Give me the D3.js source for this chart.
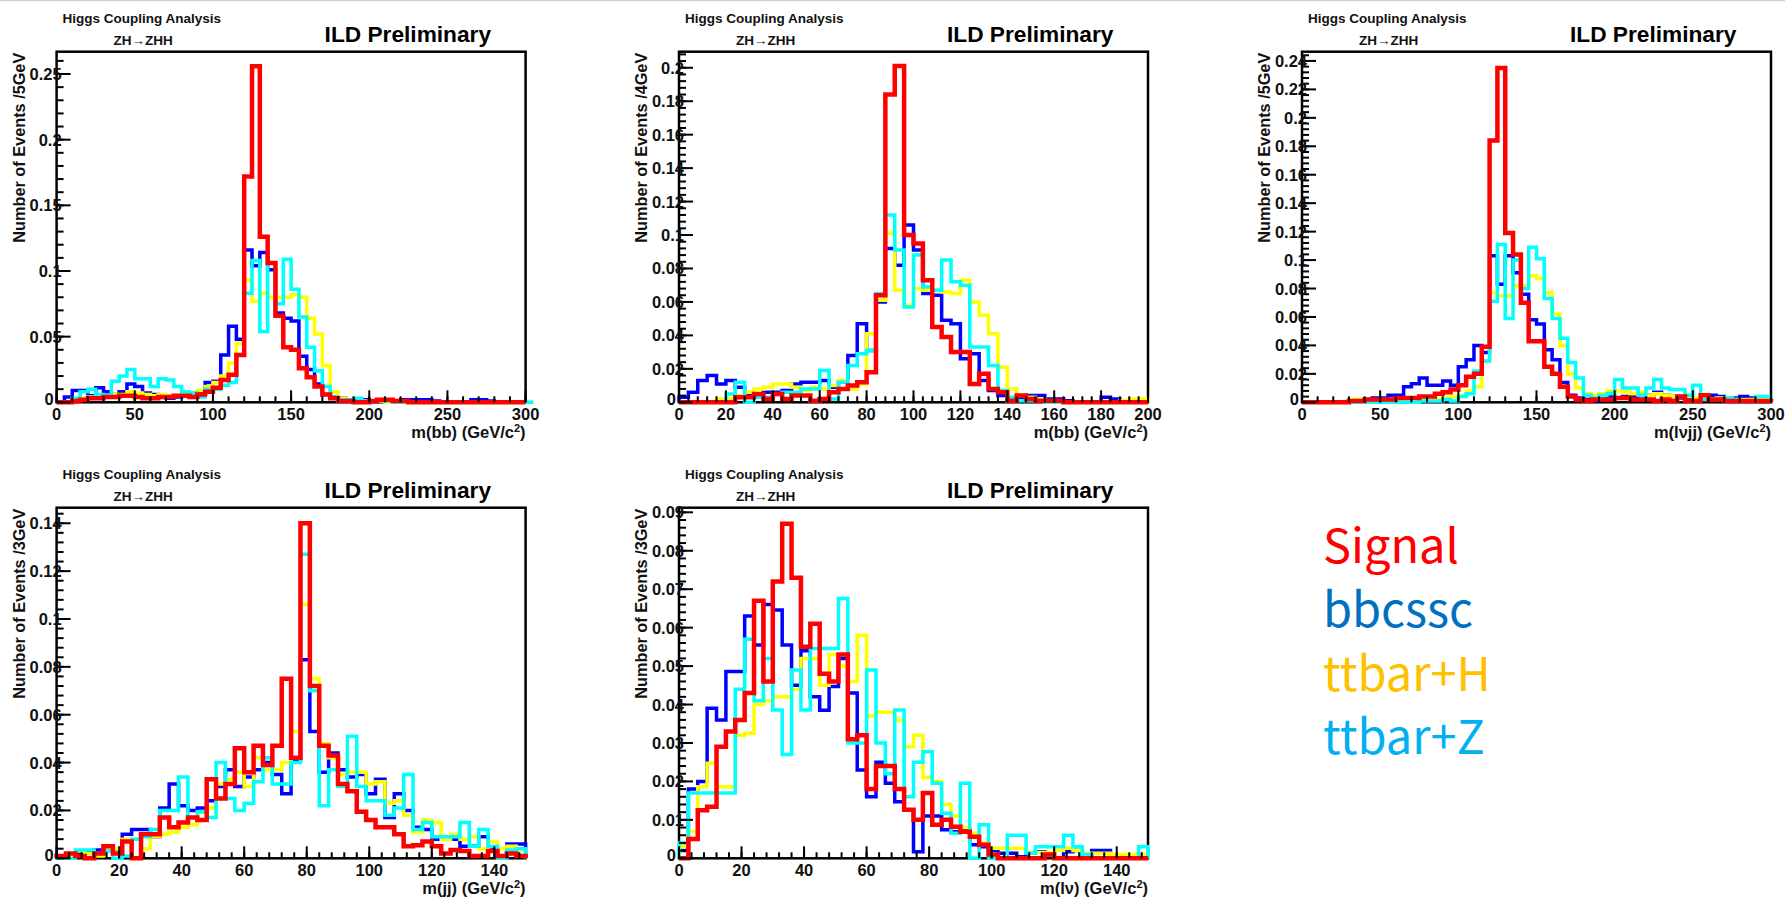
<!DOCTYPE html>
<html>
<head>
<meta charset="utf-8">
<script src="https://cdn.jsdelivr.net/npm/d3@7"></script>
<style>
  html, body { margin: 0; padding: 0; background: #fff; }
  svg { display: block; font-family: "Liberation Sans", Arial, Helvetica, sans-serif; }
</style>
</head>
<body>
<svg id="chart" width="1785" height="897"></svg>
<script>
// ---------------------------------------------------------------
// Normalised event distributions (fraction of events per bin)
// ---------------------------------------------------------------

// m(bb), 5 GeV bins, 0-300 GeV
const sigMbb5 = [0,0,0.001,0.002,0.003,0.003,0.004,0.004,0.005,0.005,0.004,0.003,0.003,0.004,0.004,0.005,0.005,0.004,
  0.006,0.008,0.011,0.017,0.021,0.036,0.172,0.256,0.126,0.106,0.066,0.042,0.040,0.026,0.019,0.012,0.006,0.003,
  0.001,0.001,0,0,0.001,0.002,0.002,0.001,0.001,0,0,0,0,0,0,0,0,0,0,0,0,0,0,0];
const bbcsscMbb5 = [0,0.004,0.009,0.009,0.005,0.011,0.008,0.006,0.008,0.014,0.012,0.007,0.006,0.004,0.003,0.004,0.006,0.006,0.007,0.015,0.016,0.036,0.058,0.048,
  0.116,0.104,0.114,0.101,0.068,0.064,0.062,0.035,0.025,0.014,0.006,0.004,0.003,0.002,
  0.001,0.002,0.001,0.001,0,0,0.002,0.002,0.002,0.002,0.001,0,0,0,0,0.002,0.002,0.001,0,0,0,0];
const ttHMbb5 = [0,0,0.001,0.003,0.004,0.004,0.005,0.006,0.006,0.008,0.007,0.006,0.005,0.006,0.005,0.005,0.006,0.007,0.009,0.012,0.015,0.020,0.030,0.045,
  0.093,0.077,0.083,0.080,0.080,0.080,0.082,0.080,0.064,0.052,0.028,0.008,0.003,
  0.002,0.002,0.001,0.001,0.001,0,0,0,0,0,0,0,0,0,0,0,0,0,0,0,0,0,0,0];
const ttZMbb5 = [0,0,0.003,0.008,0.010,0.006,0.005,0.016,0.020,0.025,0.018,0.018,0.012,0.018,0.017,0.012,0.008,0.007,0.004,0.010,0.010,0.013,0.015,0.036,
  0.083,0.108,0.054,0.106,0.075,0.109,0.086,0.065,0.042,0.024,0.012,0.004,0.002,
  0.002,0.003,0.001,0.001,0.002,0.001,0,0,0,0,0,0,0,0,0,0,0,0,0,0,0,0,0,0];

// m(bb), 4 GeV bins, 0-200 GeV
const sigMbb4 = [0,0,0,0,0,0,0.003,0.003,0.005,0.002,0.005,0.002,0.004,0.004,0.001,0.002,
  0.006,0.008,0.010,0.012,0.018,0.064,0.184,0.201,0.100,0.095,0.073,0.045,0.039,0.030,0.030,0.011,0.017,0.008,
  0.006,0.001,0.004,0.002,0.001,0.001,0.001,0,0,0,0,0,0,0,0,0];
const bbcsscMbb4 = [0.003,0.006,0.013,0.016,0.011,0.013,0.009,0.004,0.003,0.006,0.006,0.007,0.011,0.012,0.012,0.013,0.009,0.012,
  0.028,0.047,0.031,0.060,0.092,0.082,0.106,0.091,0.065,0.064,0.049,0.047,0.026,0.029,0.013,0.007,
  0.004,0.002,0.003,0.004,0.004,0.002,0.002,0.001,0,0,0,0.003,0.002,0,0,0];
const ttHMbb4 = [0,0,0,0,0.002,0.002,0.004,0.006,0.008,0.009,0.011,0.011,0.009,0.007,0.009,0.008,0.010,0.013,0.008,0.011,0.041,
  0.061,0.101,0.067,0.058,0.068,0.067,0.067,0.066,0.065,0.073,0.060,0.052,0.041,0.021,
  0.008,0.004,0.003,0.002,0.001,0.001,0,0,0,0,0,0,0.001,0.002,0.002];
const ttZMbb4 = [0,0,0,0,0,0.005,0.012,0,0.003,0.003,0.005,0.006,0.006,0.008,0.008,0.019,0.002,0.012,0.022,0.029,0.031,
  0.065,0.112,0.091,0.057,0.088,0.069,0.067,0.085,0.072,0.070,0.033,0.033,0.022,0.007,
  0.003,0.001,0.001,0.001,0,0,0,0,0,0,0,0,0,0,0];

// m(lνjj), 5 GeV bins, 0-300 GeV
const sigMlvjj = [0,0,0,0,0,0,0.001,0.001,0.002,0.002,0.002,0.002,0.003,0.003,0.003,0.004,0.004,0.006,0.007,0.009,0.012,0.018,0.020,0.039,
  0.184,0.235,0.119,0.104,0.070,0.043,0.043,0.025,0.020,0.011,0.004,0.002,
  0.001,0.002,0.002,0.002,0.003,0.003,0.002,0.002,0.002,0.001,0.002,0.001,0.004,0.001,0.001,0.005,0.002,0.002,0.001,0.001,0.001,0.001,0.001,0.001];
const bbcsscMlvjj = [0,0,0,0,0,0,0,0.001,0.002,0.003,0.003,0.005,0.005,0.011,0.013,0.017,0.012,0.012,0.015,0.012,0.025,0.030,0.040,0.035,
  0.103,0.083,0.103,0.091,0.076,0.058,0.055,0.037,0.030,0.014,0.005,0.003,
  0.002,0.001,0.002,0.004,0.003,0.004,0.004,0.002,0.005,0.007,0.005,0.004,0.003,0.002,0.002,0.003,0.005,0.004,0.003,0.003,0.004,0.003,0.002,0.002];
const ttHMlvjj = [0,0,0,0,0,0,0.002,0.002,0.001,0.001,0.002,0.002,0.002,0.003,0.003,0.002,0.003,0.002,0.003,0.004,0.005,0.008,0.011,0.029,
  0.077,0.075,0.075,0.082,0.082,0.089,0.087,0.077,0.062,0.040,0.020,0.010,0.006,
  0.005,0.006,0.008,0.008,0.007,0.006,0.007,0.005,0.006,0.005,0.004,0.004,0.004,0.003,0.003,0.002,0.003,0.003,0.002,0.002,0.002,0.002,0.002];
const ttZMlvjj = [0,0,0,0,0,0,0,0,0,0,0,0,0,0,0,0.001,0.001,0.001,0.002,0.001,0.004,0.006,0.022,0.029,
  0.071,0.111,0.059,0.100,0.080,0.109,0.101,0.073,0.059,0.045,0.028,0.017,0.005,
  0.003,0.005,0.006,0.016,0.010,0.010,0.005,0.010,0.016,0.010,0.009,0.009,0.005,0.012,0.002,0.002,0.002,0.003,0.002,0.001,0.001,0.004,0.004];

// m(jj), 3 GeV bins, 0-150 GeV
const sigMjj = [0.001,0.002,0.001,0,0.002,0.005,0.002,0.007,0,0.010,
  0.010,0.017,0.013,0.015,0.017,0.016,0.033,0.025,0.031,0.046,
  0.036,0.047,0.039,0.047,0.075,0.042,0.140,0.072,0.047,0.043,
  0.031,0.028,0.0195,0.016,0.013,0.013,0.010,0.005,0.0055,0.007,
  0.005,0.002,0.0035,0.003,0.001,0.001,0.003,0.001,0.002,0.001];
const bbcsscMjj = [0,0.001,0.002,0.003,0.0035,0.005,0.004,0.010,0.012,0.012,
  0.009,0.021,0.031,0.022,0.020,0.021,0.024,0.030,0.037,0.030,
  0.034,0.037,0.040,0.035,0.027,0.041,0.083,0.053,0.036,0.044,
  0.037,0.034,0.035,0.027,0.033,0.017,0.027,0.020,0.013,0.012,
  0.008,0.009,0.008,0.005,0.005,0.009,0.0035,0,0.006,0.006];
const ttHMjj = [0,0.001,0.003,0.002,0.001,0.0035,0.004,0.008,0.008,0.004,
  0.009,0.010,0.011,0.013,0.014,0.019,0.021,0.031,0.033,0.036,
  0.030,0.042,0.037,0.037,0.040,0.053,0.106,0.075,0.048,0.042,
  0.035,0.036,0.036,0.031,0.032,0.023,0.024,0.018,0.011,0.016,
  0.015,0.008,0.010,0.008,0.009,0.004,0.007,0.004,0.005,0.0035];
const ttZMjj = [0,0,0.0035,0.0035,0.002,0.003,0,0.001,0.008,0.009,
  0.012,0.020,0.020,0.034,0.017,0.0195,0.017,0.040,0.025,0.020,
  0.023,0.032,0.042,0.031,0.031,0.040,0.127,0.070,0.022,0.037,
  0.030,0.051,0.030,0.024,0.024,0.018,0.021,0.035,0.012,0.015,
  0.009,0.009,0.009,0.015,0.005,0.012,0.005,0,0.0035,0.004];

// m(lν), 3 GeV bins, 0-150 GeV
const sigMlv = [0,0.005,0.0125,0.0134,0.029,0.033,0.036,0.043,0.067,0.046,
  0.072,0.087,0.073,0.055,0.061,0.048,0.046,0.053,0.031,0.032,
  0.018,0.024,0.024,0.018,0.0126,0.010,0.017,0.0087,0.010,0.0082,
  0.0069,0.0056,0.0035,0.001,0,0,0,0,0,0.001,
  0,0,0,0,0,0,0,0,0,0];
const bbcsscMlv = [0.002,0.018,0.020,0.039,0.036,0.0486,0.0486,0.063,0.0555,0.066,
  0.0646,0.0555,0.045,0.054,0.042,0.0385,0.0447,0.052,0.043,0.023,
  0.016,0.025,0.0195,0.0147,0.0126,0.0017,0.011,0.011,0.0074,0.0069,
  0.0074,0.0035,0.003,0.0021,0.0013,0.0013,0.0004,0.0013,0.0017,0.001,
  0,0.0017,0.002,0,0.002,0.002,0,0,0,0];
const ttHMlv = [0.003,0.007,0.0186,0.0247,0.0186,0.0186,0.032,0.0325,0.040,0.041,
  0.042,0.042,0.044,0.052,0.052,0.045,0.053,0.050,0.046,0.058,
  0.037,0.038,0.038,0.036,0.029,0.032,0.021,0.020,0.014,0.011,
  0.008,0.0065,0.004,0.0026,0.0026,0.0026,0.0026,0.0015,0.0015,0.0015,
  0.002,0.0026,0.002,0.0013,0.0013,0.0013,0.001,0.001,0.001,0.001];
const ttZMlv = [0.004,0.017,0.017,0.017,0.017,0.017,0.044,0.057,0.041,0.052,
  0.0386,0.027,0.049,0.0386,0.0546,0.0546,0.0546,0.0676,0.030,0.030,
  0.049,0.030,0.022,0.0386,0.016,0.025,0.0277,0.0195,0.0117,0.0065,
  0.0195,0,0.0087,0,0,0.006,0.006,0.0013,0.003,0.003,
  0.003,0.006,0.003,0.001,0,0,0,0,0,0.003];

// Axis tick values
const xTicks300 = [0, 50, 100, 150, 200, 250, 300];
const xTicks200 = [0, 20, 40, 60, 80, 100, 120, 140, 160, 180, 200];
const xTicks150 = [0, 20, 40, 60, 80, 100, 120, 140];
const yTicksMbb5 = [0, 0.05, 0.1, 0.15, 0.2, 0.25];
const yTicksMbb4 = [0, 0.02, 0.04, 0.06, 0.08, 0.1, 0.12, 0.14, 0.16, 0.18, 0.2];
const yTicksMlvjj = [0, 0.02, 0.04, 0.06, 0.08, 0.1, 0.12, 0.14, 0.16, 0.18, 0.2, 0.22, 0.24];
const yTicksMjj = [0, 0.02, 0.04, 0.06, 0.08, 0.1, 0.12, 0.14];
const yTicksMlv = [0, 0.01, 0.02, 0.03, 0.04, 0.05, 0.06, 0.07, 0.08, 0.09];

// Legend
const legendNames = ["Signal", "bbcssc", "ttbar+H", "ttbar+Z"];
const legendColors = ["#ff0000", "#0070c0", "#ffc000", "#00b0f0"];

// ---------------------------------------------------------------
const svg = d3.select("#chart");
svg.append("rect").attr("width", 1785).attr("height", 897).attr("fill", "#fff");
svg.append("line").attr("x1", 0).attr("x2", 1785).attr("y1", 0.5).attr("y2", 0.5)
  .attr("stroke", "#cfcfcf").attr("stroke-width", 1.5);

const colLeft = [56.6, 679, 1302];
const rowTop = [51.7, 507.7];
const FW = 469, FH = 350.6;

// draw order: bbcssc, ttbar+H, ttbar+Z, then signal on top
const lineColors = ["#0000ff", "#ffff00", "#00ffff", "#ff0000"];
const lineWidths = [3.5, 3.5, 3.5, 4.5];

const panels = [
  { col: 0, row: 0, xMax: 300, binW: 5, yMax: 0.267, xTicks: xTicks300, xMinor: 10, yTicks: yTicksMbb5, yMinor: 0.01,
    yTitle: "Number of Events /5GeV", xTitle: "m(bb) (GeV/c", series: [bbcsscMbb5, ttHMbb5, ttZMbb5, sigMbb5] },
  { col: 1, row: 0, xMax: 200, binW: 4, yMax: 0.2096, xTicks: xTicks200, xMinor: 4, yTicks: yTicksMbb4, yMinor: 0.004,
    yTitle: "Number of Events /4GeV", xTitle: "m(bb) (GeV/c", series: [bbcsscMbb4, ttHMbb4, ttZMbb4, sigMbb4] },
  { col: 2, row: 0, xMax: 300, binW: 5, yMax: 0.2465, xTicks: xTicks300, xMinor: 10, yTicks: yTicksMlvjj, yMinor: 0.004,
    yTitle: "Number of Events /5GeV", xTitle: "m(l\u03bdjj) (GeV/c", series: [bbcsscMlvjj, ttHMlvjj, ttZMlvjj, sigMlvjj] },
  { col: 0, row: 1, xMax: 150, binW: 3, yMax: 0.1465, xTicks: xTicks150, xMinor: 4, yTicks: yTicksMjj, yMinor: 0.004,
    yTitle: "Number of Events /3GeV", xTitle: "m(jj) (GeV/c", series: [bbcsscMjj, ttHMjj, ttZMjj, sigMjj] },
  { col: 1, row: 1, xMax: 150, binW: 3, yMax: 0.0912, xTicks: xTicks150, xMinor: 4, yTicks: yTicksMlv, yMinor: 0.002,
    yTitle: "Number of Events /3GeV", xTitle: "m(l\u03bd) (GeV/c", series: [bbcsscMlv, ttHMlv, ttZMlv, sigMlv] }
];

const fmt = d3.format("~g");

panels.forEach(p => {
  const L = colLeft[p.col], T = rowTop[p.row];
  const x = d3.scaleLinear().domain([0, p.xMax]).range([L, L + FW]);
  const y = d3.scaleLinear().domain([0, p.yMax]).range([T + FH, T]);
  const g = svg.append("g");

  // header texts
  g.append("text").attr("x", L + 6).attr("y", T - 29)
    .attr("font-size", 13.5).attr("font-weight", "bold").attr("fill", "#111")
    .text("Higgs Coupling Analysis");
  g.append("text").attr("x", L + 57).attr("y", T - 7)
    .attr("font-size", 13.5).attr("font-weight", "bold").attr("fill", "#111")
    .text("ZH\u2192ZHH");
  g.append("text").attr("x", L + 268).attr("y", T - 10)
    .attr("font-size", 22.7).attr("font-weight", "bold").attr("fill", "#000")
    .text("ILD Preliminary");

  // frame
  g.append("rect").attr("x", L).attr("y", T).attr("width", FW).attr("height", FH)
    .attr("fill", "none").attr("stroke", "#000").attr("stroke-width", 2.5);

  // histograms as step outlines
  const line = d3.line().x(d => x(d[0])).y(d => y(d[1])).curve(d3.curveStepAfter);
  p.series.forEach((vals, si) => {
    const n = vals.length;
    const pts = [[0, 0]];
    vals.forEach((v, i) => pts.push([i * p.binW, v]));
    pts.push([n * p.binW, vals[n - 1]]);
    pts.push([n * p.binW, 0]);
    g.append("path").attr("d", line(pts)).attr("fill", "none")
      .attr("stroke", lineColors[si]).attr("stroke-width", lineWidths[si])
      .attr("stroke-linejoin", "miter").attr("stroke-linecap", "butt");
  });

  // ticks (inside the frame)
  const yMinorVals = d3.range(0, p.yMax + 1e-9, p.yMinor);
  g.selectAll(null).data(yMinorVals).join("line")
    .attr("x1", L).attr("x2", L + 7)
    .attr("y1", d => y(d)).attr("y2", d => y(d))
    .attr("stroke", "#000").attr("stroke-width", 2);
  g.selectAll(null).data(p.yTicks).join("line")
    .attr("x1", L).attr("x2", L + 14)
    .attr("y1", d => y(d)).attr("y2", d => y(d))
    .attr("stroke", "#000").attr("stroke-width", 2);
  const xMinorVals = d3.range(0, p.xMax + 1e-9, p.xMinor);
  g.selectAll(null).data(xMinorVals).join("line")
    .attr("x1", d => x(d)).attr("x2", d => x(d))
    .attr("y1", T + FH).attr("y2", T + FH - 6)
    .attr("stroke", "#000").attr("stroke-width", 2);
  g.selectAll(null).data(p.xTicks).join("line")
    .attr("x1", d => x(d)).attr("x2", d => x(d))
    .attr("y1", T + FH).attr("y2", T + FH - 12)
    .attr("stroke", "#000").attr("stroke-width", 2);

  // tick labels (the y-axis zero sits a little left of the others)
  g.selectAll(null).data(p.yTicks).join("text")
    .attr("x", d => d === 0 ? L - 3 : L + 5)
    .attr("y", d => d === 0 ? y(d) + 3 : y(d) + 6)
    .attr("text-anchor", "end").attr("font-size", 16.5).attr("font-weight", "bold")
    .attr("fill", "#111")
    .text(d => fmt(d));
  g.selectAll(null).data(p.xTicks).join("text")
    .attr("x", d => x(d)).attr("y", T + FH + 18)
    .attr("text-anchor", "middle").attr("font-size", 16.5).attr("font-weight", "bold")
    .attr("fill", "#111")
    .text(d => fmt(d));

  // axis titles
  g.append("text")
    .attr("transform", `translate(${L - 32},${T + 1}) rotate(-90)`)
    .attr("text-anchor", "end").attr("font-size", 16.3).attr("font-weight", "bold")
    .attr("fill", "#111")
    .text(p.yTitle);
  const xt = g.append("text").attr("x", L + FW).attr("y", T + FH + 36)
    .attr("text-anchor", "end").attr("font-size", 16.5).attr("font-weight", "bold")
    .attr("fill", "#111");
  xt.append("tspan").text(p.xTitle);
  xt.append("tspan").attr("font-size", 11).attr("dy", -6).text("2");
  xt.append("tspan").attr("dy", 6).text(")");
});

// legend
svg.append("g").selectAll("text").data(legendNames).join("text")
  .attr("x", 1323).attr("y", (d, i) => 563 + i * 63.8)
  .attr("font-family", "'Noto Sans CJK JP', 'Noto Sans', sans-serif")
  .attr("font-size", 47)
  .attr("fill", (d, i) => legendColors[i])
  .text(d => d);
</script>
</body>
</html>
